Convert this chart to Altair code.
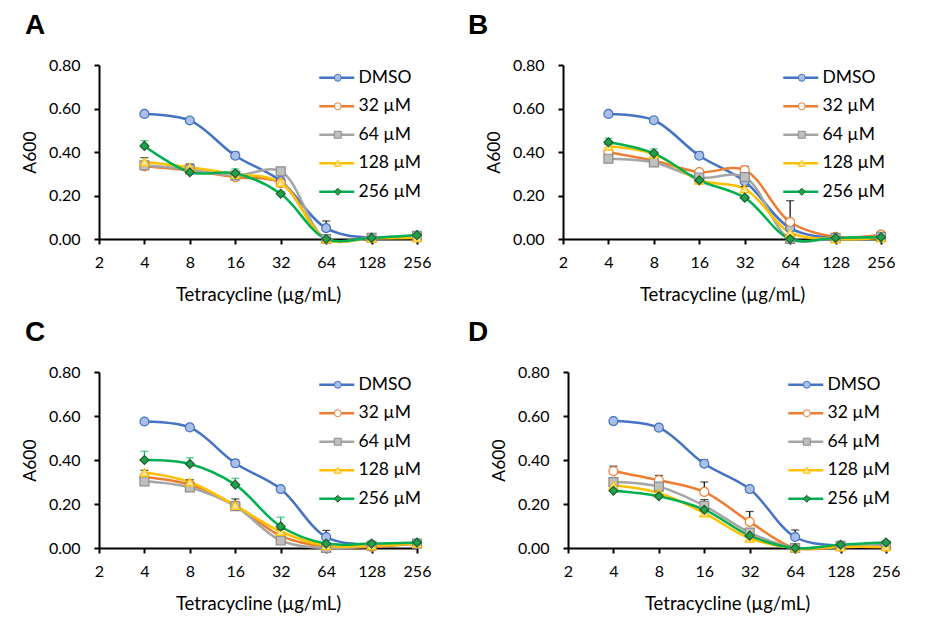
import altair as alt
import pandas as pd

conc = [4, 8, 16, 32, 64, 128, 256]
series = ["DMSO", "32 µM", "64 µM", "128 µM", "256 µM"]
codes = ["0", "1", "2", "3", "4"]
x_ticks = [2, 4, 8, 16, 32, 64, 128, 256]
y_ticks = [0, 0.2, 0.4, 0.6, 0.8]

line_colors = ["#4472C4", "#ED7D31", "#A5A5A5", "#FFC000", "#00B050"]
marker_fills = ["#A9BFE6", "#FFFFFF", "#BFBFBF", "#FFE699", "#22A04B"]
marker_strokes = ["#4472C4", "#ED7D31", "#8C8C8C", "#FFC000", "#17602F"]
marker_shapes = ["circle", "circle", "square", "triangle-up", "diamond"]

# Panel A
a_mean = [
    [0.575, 0.545, 0.383, 0.267, 0.050, 0.005, 0.015],
    [0.334, 0.315, 0.284, 0.257, 0.000, 0.005, 0.010],
    [0.339, 0.320, 0.292, 0.311, 0.000, 0.005, 0.015],
    [0.354, 0.330, 0.298, 0.260, 0.000, 0.003, 0.005],
    [0.428, 0.307, 0.302, 0.208, 0.000, 0.005, 0.018],
]
a_err = [
    [0.008, 0.006, 0.016, 0.025, 0.033, 0, 0],
    [0.010, 0.010, 0.010, 0, 0, 0, 0],
    [0.010, 0.025, 0.010, 0.010, 0, 0, 0],
    [0.020, 0.012, 0, 0.010, 0, 0, 0],
    [0.024, 0.010, 0.020, 0.010, 0, 0, 0],
]
# Panel B
b_mean = [
    [0.575, 0.546, 0.383, 0.265, 0.050, 0.005, 0.015],
    [0.399, 0.360, 0.308, 0.317, 0.078, 0.010, 0.020],
    [0.369, 0.352, 0.283, 0.285, 0.000, 0.005, 0.010],
    [0.426, 0.390, 0.270, 0.231, 0.030, 0.000, 0.005],
    [0.445, 0.394, 0.270, 0.190, 0.000, 0.005, 0.008],
]
b_err = [
    [0.005, 0.005, 0.016, 0.010, 0.020, 0, 0],
    [0.010, 0.010, 0.010, 0.017, 0.098, 0, 0],
    [0.010, 0.010, 0.010, 0.010, 0, 0, 0],
    [0.010, 0.010, 0.010, 0.010, 0, 0, 0],
    [0.018, 0.020, 0.010, 0.010, 0, 0, 0],
]
# Panel C
c_mean = [
    [0.575, 0.548, 0.385, 0.268, 0.050, 0.015, 0.020],
    [0.323, 0.288, 0.193, 0.055, 0.005, 0.005, 0.020],
    [0.303, 0.275, 0.190, 0.034, 0.000, 0.010, 0.020],
    [0.343, 0.300, 0.193, 0.075, 0.010, 0.010, 0.020],
    [0.400, 0.382, 0.288, 0.098, 0.020, 0.020, 0.025],
]
c_err = [
    [0.005, 0.005, 0.015, 0.010, 0.030, 0, 0],
    [0.010, 0.010, 0.030, 0.010, 0, 0, 0],
    [0.010, 0.010, 0.020, 0.010, 0, 0, 0],
    [0.010, 0.010, 0.010, 0.010, 0, 0, 0],
    [0.040, 0.028, 0.029, 0.042, 0, 0, 0],
]
# Panel D
d_mean = [
    [0.577, 0.547, 0.383, 0.268, 0.050, 0.010, 0.015],
    [0.349, 0.308, 0.255, 0.119, 0.000, 0.005, 0.005],
    [0.300, 0.279, 0.192, 0.070, 0.000, 0.010, 0.010],
    [0.285, 0.250, 0.159, 0.044, 0.000, 0.005, 0.005],
    [0.260, 0.235, 0.174, 0.056, 0.000, 0.015, 0.025],
]
d_err = [
    [0.005, 0.005, 0.017, 0.010, 0.032, 0, 0],
    [0.023, 0.022, 0.045, 0.047, 0, 0, 0],
    [0.010, 0.010, 0.028, 0.010, 0, 0, 0],
    [0.010, 0.010, 0.010, 0.010, 0, 0, 0],
    [0.010, 0.010, 0.010, 0.023, 0, 0, 0],
]

FONT = "Lato"
FS = 16
LFS = 17.5
TFS = 18.5


def make_df(means, errs):
    rows = []
    for i, s in enumerate(series):
        for j, c in enumerate(conc):
            rows.append({
                "conc": c, "series": s, "code": codes[i],
                "mean": means[i][j], "err": errs[i][j],
                "top": means[i][j] + errs[i][j],
            })
    return pd.DataFrame(rows)


def panel(letter, means, errs, dx, h):
    df = make_df(means, errs)
    base = alt.Chart(df)
    xenc = alt.X(
        "conc:Q",
        scale=alt.Scale(type="log", base=2, domain=[2, 256], nice=False),
        axis=alt.Axis(values=x_ticks, format="d", title="Tetracycline (µg/mL)",
                      labelPadding=10, titlePadding=15, labelFlush=False),
    )

    def yenc(field):
        return alt.Y(
            f"{field}:Q",
            scale=alt.Scale(domain=[0, 0.8], nice=False, zero=False),
            axis=alt.Axis(values=y_ticks, format=".2f", title="A600",
                          labelPadding=14, titlePadding=9, labelFlush=False,
                          titleFontSize=17.5),
            title="A600",
        )

    line_legend = alt.Legend(
        title=None, orient="none", legendX=229, legendY=4,
        symbolType="M-5,0H5", symbolSize=49, symbolStrokeWidth=2.5,
        labelFont=FONT, labelFontSize=LFS, labelOffset=13, rowPadding=9.5,
        padding=0, zindex=1,
    )
    marker_legend = alt.Legend(
        title=None, orient="none", legendX=230, legendY=4,
        symbolSize=49, symbolStrokeWidth=1,
        labelFont=FONT, labelFontSize=LFS, labelOffset=13, rowPadding=9.5,
        labelOpacity=0, labelExpr="' '", padding=0, zindex=2,
    )

    lines = base.mark_line(interpolate="catmull-rom", strokeWidth=2.5).encode(
        x=xenc, y=yenc("mean"),
        color=alt.Color("series:N", scale=alt.Scale(domain=series, range=line_colors),
                        legend=line_legend),
    )
    eb = base.transform_filter("datum.err > 0 && datum.code != '4'")
    eg = base.transform_filter("datum.err > 0 && datum.code == '4'")
    rule_b = eb.mark_rule(color="black", strokeWidth=1.2).encode(
        x=xenc, y=yenc("mean"), y2="top:Q")
    cap_b = eb.mark_tick(color="black", orient="horizontal", size=8, thickness=1.2).encode(
        x=xenc, y=yenc("top"))
    rule_g = eg.mark_rule(color="#00B050", strokeWidth=1.2).encode(
        x=xenc, y=yenc("mean"), y2="top:Q")
    cap_g = eg.mark_tick(color="#00B050", orient="horizontal", size=8, thickness=1.2).encode(
        x=xenc, y=yenc("top"))
    points = base.mark_point(filled=True, opacity=1, size=80, strokeWidth=1.2).encode(
        x=xenc, y=yenc("mean"),
        shape=alt.Shape("code:N", scale=alt.Scale(domain=codes, range=marker_shapes),
                        legend=marker_legend),
        fill=alt.Fill("code:N", scale=alt.Scale(domain=codes, range=marker_fills),
                      legend=marker_legend),
        stroke=alt.Stroke("code:N", scale=alt.Scale(domain=codes, range=marker_strokes),
                          legend=marker_legend),
    )
    return alt.layer(lines, rule_b, cap_b, rule_g, cap_g, points).properties(
        width=318, height=h,
        title=alt.TitleParams(letter, anchor="start", frame="group", dx=dx,
                              font="Liberation Sans", fontSize=28, fontWeight="bold",
                              baseline="alphabetic", offset=-5, color="black"),
    )


indep = dict(color="independent", fill="independent", stroke="independent",
             shape="independent", x="independent", y="independent")

row1 = alt.hconcat(panel("A", a_mean, a_err, -74, 174),
                   panel("B", b_mean, b_err, -95, 174), spacing=37).resolve_scale(**indep)
row2 = alt.hconcat(panel("C", c_mean, c_err, -74, 176),
                   panel("D", d_mean, d_err, -100, 176), spacing=37).resolve_scale(**indep)

chart = alt.vconcat(row1, row2, spacing=15).resolve_scale(**indep).properties(
    padding={"left": 13, "top": 4, "right": 0, "bottom": 0},
    background="white",
).configure_view(stroke=None).configure_axis(
    domainColor="black", domainWidth=2, tickColor="black", tickWidth=2, tickSize=5,
    labelFont=FONT, labelFontSize=FS, labelColor="black",
    titleFont=FONT, titleFontSize=TFS, titleFontWeight="normal", titleColor="black",
    grid=False,
)

chart.save("out.html", embed_options={"renderer": "svg", "actions": False})
